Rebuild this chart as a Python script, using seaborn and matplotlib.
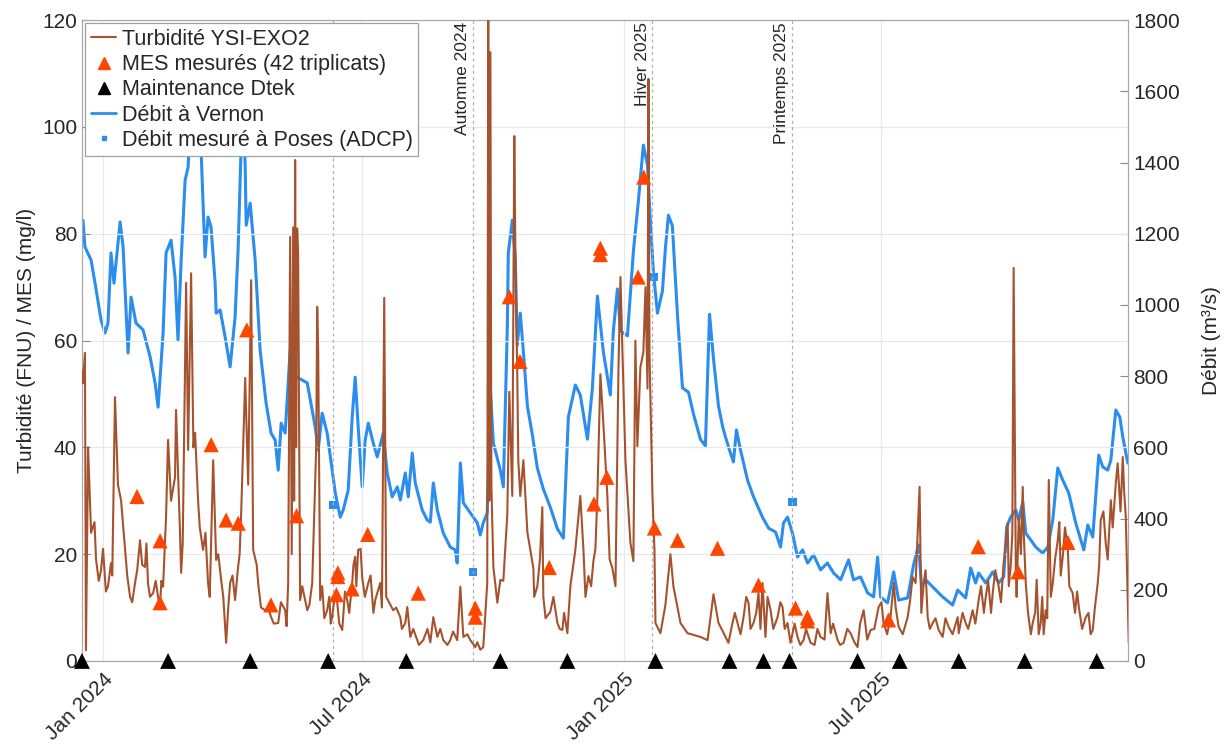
import pandas as pd
import matplotlib.pyplot as plt
import matplotlib.dates as mdates
from matplotlib.lines import Line2D
import seaborn as sns

sns.set_style('white')
plt.rcParams['font.family'] = ['Liberation Sans', 'DejaVu Sans']

BROWN = '#A5532E'
BLUE = '#2B8DEE'
ORANGE = '#FF4500'

start = pd.Timestamp('2024-01-01')

# days since 2024-01-01
turb_day = [-15.5, -14.1, -12.7, -12.0, -10.5, -8.4, -4.9, -1.4, 3.5, 5.6, 8.4, 10.5, 12.7, 15.5, 19.0,
            22.5, 26.0, 29.5, 31.6, 35.2, 38.7, 42.2, 44.3, 45.7, 47.8, 50.6, 51.3, 54.1, 54.9, 58.4,
            59.8, 61.9, 64.7, 66.8, 70.3, 73.8, 77.4, 79.5, 83.0, 86.5, 89.3, 92.8, 94.9, 97.0, 99.9,
            102.0, 104.1, 105.5, 109.0, 113.9, 118.1, 123.1, 128.0, 130.1, 131.5, 132.6, 133.6, 134.3,
            135.0, 135.7, 136.4, 137.1, 138.5, 143.5, 147.0, 149.8, 150.5, 151.2, 152.6, 157.5, 161.0,
            164.6, 168.1, 171.6, 175.1, 177.2, 179.3, 182.1, 186.4, 191.3, 194.8, 197.6, 199.0, 203.9,
            208.9, 212.4, 213.8, 215.9, 220.8, 225.0, 232.1, 234.9, 239.1, 244.0, 248.9, 251.1, 253.2,
            258.1, 261.6, 265.1, 267.2, 270.0, 270.7, 271.4, 272.2, 272.9, 274.3, 277.1, 279.2, 281.3,
            284.1, 285.5, 287.6, 289.0, 289.7, 291.1, 291.8, 293.2, 295.4, 298.2, 300.3, 302.4, 305.2,
            308.7, 309.4, 314.3, 319.3, 322.8, 326.3, 328.4, 331.9, 335.4, 337.6, 341.1, 344.6, 347.4,
            349.5, 351.6, 354.4, 357.9, 360.1, 362.2, 363.6, 365.0, 367.1, 370.6, 372.7, 374.1, 375.5,
            377.6, 379.7, 381.2, 382.6, 383.3, 384.0, 386.1, 387.5, 388.2, 391.7, 395.2, 398.7, 400.8,
            405.8, 410.7, 419.8, 424.8, 429.0, 432.5, 433.9, 439.5, 442.3, 446.6, 450.1, 453.6, 457.1,
            460.6, 463.4, 465.5, 469.1, 474.0, 477.5, 481.0, 483.1, 488.0, 492.3, 497.2, 504.2, 509.1,
            511.3, 516.2, 520.4, 525.3, 530.2, 534.5, 539.4, 545.0, 548.5, 553.4, 555.6, 559.1, 565.4,
            568.9, 571.0, 573.8, 576.7, 579.5, 583.0, 587.2, 594.2, 600.6, 601.3, 606.2, 611.1, 615.3,
            620.3, 625.2, 629.4, 632.9, 635.7, 637.8, 639.9, 641.4, 643.5, 646.3, 648.4, 653.3, 656.1,
            658.9, 662.4, 664.6, 667.4, 670.9, 674.4, 677.9, 681.4, 685.7, 690.6, 695.5, 699.0, 701.1,
            704.6, 708.2, 711.7, 716.6, 718.7, 720.8]
turb_fnu = [55, 52, 57.7, 2, 40, 24, 19, 17, 14, 18.3, 49.4, 33, 30, 21, 12,
            14.6, 22.6, 17.6, 14.6, 12.7, 12, 13.9, 27, 41.4, 30, 34.4, 47, 24, 16.5, 70.8,
            39.5, 72.6, 42.7, 30, 20.8, 14.6, 37.6, 18.9, 15.2, 3.4, 14.6, 11.4, 17.6, 27, 53,
            33, 71.3, 20.8, 14.6, 9.5, 8.2, 7.1, 9.5, 14.6, 79.4, 20, 81.2, 30,
            93.8, 40, 81, 76, 11.4, 9.5, 14.6, 40, 66.3, 58, 11.4, 9.5, 8.2,
            10.9, 5.8, 11.4, 14.6, 19.5, 20.8, 15.7, 14.6, 11.4, 14.6, 68, 12, 9.5,
            8.2, 7.1, 10.1, 4.5, 3.9, 3.9, 8.2, 4.5, 3.9, 3.9, 3.9, 13.9, 4.5,
            3.9, 2.6, 2.1, 2.6, 14.6, 125, 30, 114, 33, 17.6, 10.9, 15.2, 15,
            27.5, 50.4, 30.9, 98.3, 78, 53.7, 37.6, 30.9, 37.6, 24.1, 20.8, 17.4, 14,
            28.8, 12, 9.2, 7.1, 5.8, 5.2, 14, 20.8, 30.9, 20.8, 15.9, 18.7, 30.9,
            53.7, 44.4, 30.9, 17.4, 14, 54.5, 71.9, 57.8, 37.6, 22.1, 18.7, 60, 40.2,
            55, 57.8, 70, 51, 109, 57.8, 30.9, 20.8, 7.1, 5.2, 10.5, 20, 14,
            7.1, 5.2, 4.5, 3.9, 12.5, 7.1, 6.4, 3.4, 7.1, 6.4, 8.2, 10.9, 7.1,
            12.7, 14.6, 4.5, 9.5, 8.2, 10.1, 7.1, 3.4, 4.5, 3.9, 3.4, 4.5, 12.7,
            5.2, 3.9, 3.4, 5.2, 2.6, 9.5, 5.8, 10.1, 7.1, 8.2, 14.6, 6.4, 8.2,
            15.7, 14.6, 32.6, 14.6, 8.2, 7.1, 5.8, 6.4, 8.2, 5.2, 7.1, 9.5, 11.4,
            12, 12.7, 13.9, 18.3, 25.8, 17.6, 73.6, 17.6, 27, 32.6, 14.6, 7.1, 15.2,
            7.1, 9.5, 33.9, 14.6, 22.6, 19.5, 21.3, 12.7, 10.1, 8.2, 5.8, 14.6, 26.4,
            22.1, 30.1, 33.3, 38.2, 27, 3.4]

# extra readings of the short-term jitter of the sensor
jitter_day = [-6, -3, 0, 2, 6.5, 17, 20.5, 24, 27.5, 30.5, 33, 37, 40, 41, 56, 63.5, 68, 72, 75, 81,
              84.5, 88, 91, 96, 108, 111, 116, 120, 125, 129, 140, 145,
              154, 155.5, 159, 160, 163, 166, 170, 173, 176, 178, 181, 184, 188, 190, 193, 196,
              206, 210, 218, 222, 228, 230, 237, 242, 246, 256, 263,
              303, 307, 311, 316.5, 321, 324, 339, 343, 346, 356,
              444, 448, 452, 455, 459, 462, 467, 471, 476, 479, 486, 490, 494, 500, 502, 507, 513, 518,
              523, 528, 532, 537,
              542, 547, 551, 557, 562, 567, 575, 578, 581, 585, 590, 592, 597, 604, 608,
              613, 617, 619, 622, 624, 627, 631, 634, 636.5, 639, 642, 645, 647, 650, 652, 655, 657.5,
              660, 661, 663.5, 666, 669, 672, 673, 676, 679, 683, 684.5, 688, 692.5, 694, 697, 700,
              703, 706, 709.5, 713, 715, 717.5]
jitter_fnu = [26, 15, 21, 13, 16, 16, 11, 17, 18, 22, 12, 15, 10, 15, 22, 40, 25, 24, 12, 20,
              12, 10, 16, 20, 18, 10, 10, 7, 11, 6.5, 14, 10.5,
              14, 8, 12, 7, 12.5, 7, 13, 9, 18, 14, 21, 12, 16, 9, 13, 10,
              10, 6, 6, 3, 6, 3.5, 6, 3, 5.5, 5, 3.5,
              12, 19, 8, 12, 6, 9, 12, 14, 21, 19,
              9, 5, 12, 6, 9, 6, 12, 6, 11, 6, 7, 3, 6, 3, 6, 4, 7, 3,
              6, 3.5, 7, 4,
              6, 11, 5, 10, 5, 11, 9, 17, 6, 8, 4.5, 8, 5, 9, 6,
              7, 14, 9, 15, 9, 17, 11, 21, 14, 24, 12, 20, 24, 9, 5, 9, 5,
              12, 5, 8, 12, 19, 26, 16, 25, 14, 9, 13, 6, 9, 5, 10, 18,
              28, 19, 25, 37, 28, 32]

flow_day = [-14.1, -12.7, -8.4, -5.6, -1.4, 1.4, 3.5, 5.6, 7.7, 12.0, 14.1, 17.6, 19.7, 23.2, 28.1,
            33.1, 36.6, 38.7, 42.2, 44.3, 47.8, 50.6, 52.7, 54.9, 57.7, 59.8, 62.5, 65.5, 68.9, 71.7,
            73.8, 75.9, 78.8, 79.5, 82.3, 85.8, 89.3, 92.8, 94.9, 97.0, 98.5, 99.9, 100.6, 103.4, 106.9,
            110.4, 114.6, 118.1, 121.0, 123.1, 125.2, 128.0, 131.5, 133.6, 136.4, 143.5, 149.1, 151.2,
            154.0, 157.5, 161.0, 163.2, 166.7, 168.8, 172.3, 175.1, 177.2, 179.3, 182.1, 184.2, 186.4,
            189.9, 192.7, 196.9, 199.7, 203.2, 206.8, 208.9, 212.4, 214.5, 217.3, 219.4, 224.3, 227.8,
            230.0, 232.1, 234.9, 239.1, 244.0, 247.5, 248.9, 251.1, 253.2, 258.1, 263.0, 265.1, 267.2,
            270.0, 272.2, 274.3, 279.2, 281.3, 284.1, 284.8, 287.6, 289.7, 291.1, 293.2, 295.4, 298.2,
            301.7, 305.2, 309.4, 314.3, 319.3, 323.5, 327.0, 331.9, 335.4, 340.4, 343.9, 347.4, 351.6,
            356.5, 358.6, 361.5, 363.6, 368.5, 372.7, 376.2, 379.7, 382.6, 384.7, 386.8, 389.6, 393.1,
            395.2, 397.3, 400.1, 403.7, 407.2, 411.4, 414.9, 419.8, 423.3, 426.2, 429.0, 432.5, 435.3,
            437.4, 440.9, 443.0, 445.1, 448.0, 452.9, 457.1, 463.4, 467.7, 472.6, 476.1, 478.2, 481.0,
            484.5, 488.0, 491.6, 495.1, 499.3, 504.2, 509.1, 513.4, 518.3, 523.9, 527.4, 532.3, 537.3,
            541.5, 544.3, 546.4, 551.3, 555.6, 559.1, 565.4, 569.6, 573.1, 575.2, 578.1, 583.0, 590.0,
            597.0, 600.6, 606.2, 609.7, 613.2, 615.3, 620.3, 625.2, 629.4, 632.9, 635.0, 637.8, 641.4,
            643.5, 646.3, 648.4, 651.9, 655.4, 660.3, 663.9, 667.4, 670.9, 674.4, 678.6, 683.5, 687.1,
            689.2, 692.0, 695.5, 699.7, 702.5, 706.0, 708.2, 711.7, 714.5, 716.6, 720.1]
flow_m3s = [1238, 1163, 1126, 1061, 958, 921, 949, 1146, 1061, 1233, 1163, 865, 1022, 949, 930,
            854, 781, 713, 921, 1146, 1182, 1078, 901, 1126, 1351, 1387, 1650, 1560, 1435, 1135,
            1247, 1219, 1061, 977, 986, 910, 826, 966, 1154, 1435, 1580, 1387, 1224, 1286, 1126,
            873, 724, 640, 620, 536, 668, 640, 873, 781, 797, 781, 657, 592,
            696, 640, 536, 472, 404, 424, 480, 685, 797, 657, 489, 620, 668,
            612, 573, 640, 528, 461, 489, 452, 528, 461, 584, 500, 424, 396,
            390, 500, 424, 359, 320, 312, 275, 556, 444, 416, 388, 354, 388,
            416, 761, 612, 536, 489, 940, 1146, 1238, 1129, 887, 977, 868, 716,
            635, 542, 483, 432, 371, 345, 685, 775, 747, 623, 767, 1025, 868,
            747, 927, 1045, 927, 913, 1151, 1292, 1449, 1393, 1230, 1090, 977, 1039,
            1160, 1252, 1222, 969, 767, 755, 694, 623, 604, 974, 848, 716, 660,
            629, 584, 559, 649, 592, 508, 461, 404, 373, 362, 320, 388, 404,
            359, 292, 312, 275, 298, 256, 275, 247, 228, 284, 228, 236, 191,
            180, 292, 180, 163, 250, 171, 177, 270, 326, 208, 228, 208, 180,
            157, 199, 177, 261, 219, 247, 219, 250, 219, 236, 376, 404, 424,
            396, 447, 359, 340, 320, 303, 320, 396, 542, 508, 472, 388, 340,
            312, 382, 348, 578, 545, 536, 564, 705, 685, 629, 556]

mes_day = [23.9, 40.1, 40.1, 76, 86.5, 95, 101, 118, 136, 164, 165, 165, 175, 186, 221.5, 261.6, 261.6,
           285.5, 293, 313.6, 345, 349.5, 349.5, 354, 376, 380, 387.5, 403.7, 431.8, 460.6, 486.6, 495,
           495, 552, 615, 643, 678]
mes_mgl = [30.8, 22.5, 10.9, 40.5, 26.4, 25.8, 62, 10.5, 27.2, 12.4, 16.5, 15.8, 13.5, 23.7, 12.7, 9.9, 8.2,
           68.2, 56.1, 17.5, 29.4, 77.3, 76.1, 34.4, 71.9, 90.6, 24.9, 22.6, 21.1, 14.2, 9.9, 8.2,
           7.5, 7.7, 21.4, 16.7, 22.2]

adcp_day = [162, 260, 386.8, 484.5]
adcp_m3s = [438, 250, 1078, 447]

maint_day = [-14.8, 45.7, 103.4, 158.2, 213.1, 279.2, 326.3, 388.2, 440.2, 464.1, 482.4, 530.2,
             559.8, 601.3, 647.7, 698.3]

# the first season label (summer) sits behind the legend in the original
season_day = [161.7, 260.0, 386.1, 484.0]
season_lbl = [None, 'Automne 2024', 'Hiver 2025', 'Printemps 2025']


def to_date(days):
    return start + pd.to_timedelta(pd.Series(days, dtype=float), unit='D')


fig, ax = plt.subplots(figsize=(12.29, 7.46), dpi=100)
fig.subplots_adjust(left=0.0667, right=0.918, top=0.973, bottom=0.114)
ax2 = ax.twinx()

sns.lineplot(x=to_date(flow_day), y=flow_m3s, ax=ax2, color=BLUE, lw=2.2, sort=False, estimator=None)
sns.scatterplot(x=to_date(adcp_day), y=adcp_m3s, ax=ax2, marker='s', s=38, color=BLUE, edgecolor='none', zorder=5)

turb = pd.DataFrame({'day': turb_day + jitter_day, 'fnu': turb_fnu + jitter_fnu})
turb['date'] = to_date(turb['day'])
sns.lineplot(data=turb, x='date', y='fnu', ax=ax, color=BROWN, lw=1.5, sort=True, estimator=None, zorder=3)
sns.scatterplot(x=to_date(mes_day), y=mes_mgl, ax=ax, marker='^', s=120, color=ORANGE, edgecolor='none', zorder=4)
sns.scatterplot(x=to_date(maint_day), y=[0] * len(maint_day), ax=ax, marker='^', s=130, color='black',
                edgecolor='none', zorder=6, clip_on=False)

for d, lbl in zip(to_date(season_day), season_lbl):
    xd = mdates.date2num(d)
    ax.axvline(xd, color='#b0b0b0', ls=(0, (2.5, 2.5)), lw=0.9, zorder=2)
    if lbl:
        ax.annotate(lbl, xy=(xd, 0.997), xycoords=ax.get_xaxis_transform(), xytext=(-2, 0),
                    textcoords='offset points', rotation=90, ha='right', va='top', fontsize=12.5, zorder=2)

ax.set_zorder(ax2.get_zorder() + 1)
ax.patch.set_visible(False)

ax.set_xlim(pd.Timestamp('2023-12-17 05:00'), pd.Timestamp('2025-12-21 10:00'))
ax.set_ylim(0, 120)
ax2.set_ylim(0, 1800)
ax.set_yticks(range(0, 121, 20))
ax2.set_yticks(range(0, 1801, 200))
ax.set_xticks(pd.to_datetime(['2024-01-01', '2024-07-01', '2025-01-01', '2025-07-01']))
ax.xaxis.set_major_formatter(mdates.DateFormatter('%b %Y'))
for t in ax.get_xticklabels():
    t.set_rotation(45)
    t.set_ha('right')
    t.set_rotation_mode('anchor')

ax.grid(True, color='#e9e9e9', lw=0.9)
for a in (ax, ax2):
    a.tick_params(direction='in', length=6, labelsize=15, color='#8a8a8a')
    for s in a.spines.values():
        s.set_color('#a8a8a8')
ax.tick_params(axis='x', pad=6)

ax.set_xlabel('')
ax.set_ylabel('Turbidité (FNU) / MES (mg/l)', fontsize=15)
ax2.set_ylabel('Débit (m³/s)', fontsize=15, labelpad=16)

handles = [
    Line2D([], [], color=BROWN, lw=1.5, label='Turbidité YSI-EXO2'),
    Line2D([], [], marker='^', ls='none', color=ORANGE, ms=9, label='MES mesurés (42 triplicats)'),
    Line2D([], [], marker='^', ls='none', color='black', ms=8, label='Maintenance Dtek'),
    Line2D([], [], color=BLUE, lw=2, label='Débit à Vernon'),
    Line2D([], [], marker='s', ls='none', color=BLUE, ms=3, label='Débit mesuré à Poses (ADCP)'),
]
leg = ax.legend(handles=handles, loc='upper left', fancybox=False, edgecolor='#a0a0a0', framealpha=1,
                fontsize=15.5, handlelength=1.2, handletextpad=0.25, labelspacing=0.2, borderpad=0.25,
                borderaxespad=0.15)
leg.get_frame().set_linewidth(0.9)
leg.set_zorder(10)

fig.savefig('out.png', dpi=100)
